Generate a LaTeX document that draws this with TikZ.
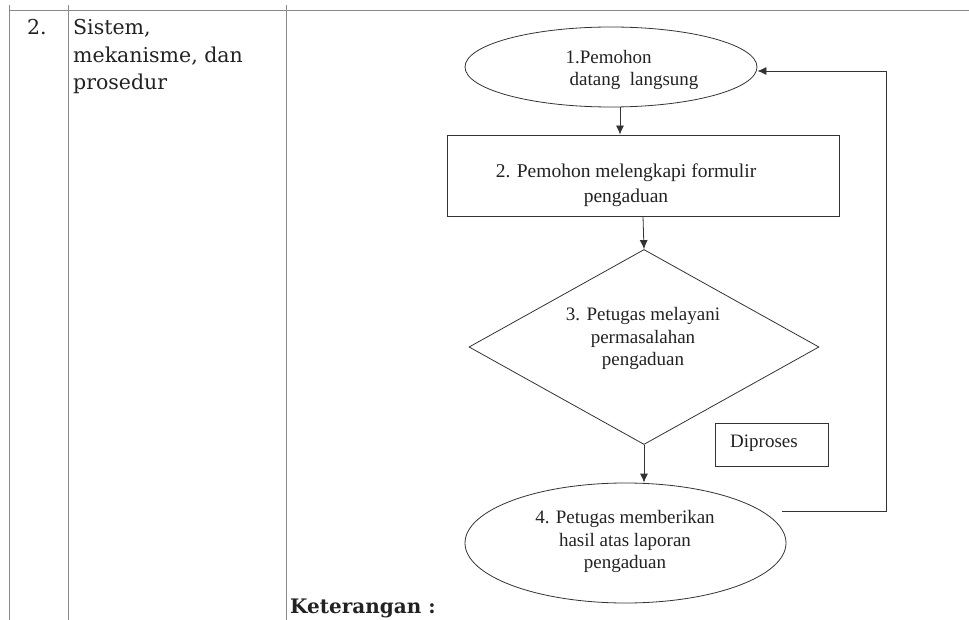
\documentclass[tikz,border=0pt]{standalone}
\usepackage{fontspec}
\setmainfont{Liberation Serif}
\newfontfamily\bookfont{DejaVu Serif}
\usetikzlibrary{shapes.geometric,arrows.meta}
\definecolor{linecol}{HTML}{333333}
\definecolor{tblcol}{HTML}{8A8A8A}
\definecolor{txtcol}{HTML}{222222}
\begin{document}
\begin{tikzpicture}[x=1pt,y=-1pt,
  tbl/.style={draw=tblcol,line width=0.7pt},
  tabtext/.style={anchor=base west,inner sep=0,text=txtcol,font=\bookfont\fontsize{20.5}{27}\selectfont},
  flowtext/.style={inner sep=0,text=txtcol,align=center,font=\fontsize{19}{22.5}\selectfont},
  shapebox/.style={draw=linecol,line width=0.8pt,inner sep=0},
  arr/.style={draw=linecol,line width=0.8pt,-{Latex[length=9pt,width=8pt]}}]
\useasboundingbox (0,0) rectangle (969,620);
% table
\draw[tbl] (9,10) -- (969,10);
\draw[tbl] (9,5) -- (9,620);
\draw[tbl] (68,5) -- (68,620);
\draw[tbl] (286,5) -- (286,620);
\node[tabtext] (num) at (27,35) {2.};
\node[tabtext] (s1) at (73,35) {Sistem,};
\node[tabtext] (s2) at (73,63) {mekanisme, dan};
\node[tabtext] (s3) at (73,90) {prosedur};
\node[anchor=base west,inner sep=0,text=txtcol,font=\bookfont\bfseries\fontsize{20}{22}\selectfont] (ket) at (290,613) {Keterangan :};
% flowchart
\node[shapebox,ellipse,minimum width=292pt,minimum height=80pt] (e1) at (611,67) {};
\node[flowtext,align=left] (t1) at (632,70) {1.Pemohon\\\hspace*{4pt}datang\ \ langsung};
\node[shapebox,rectangle,minimum width=392pt,minimum height=81pt] (r2) at (643,175.5) {};
\node[flowtext,font=\fontsize{19.5}{25}\selectfont] (t2) at (626,185) {2. Pemohon melengkapi formulir\\pengaduan};
\node[shapebox,diamond,minimum width=350pt,minimum height=195pt] (d3) at (644,347) {};
\node[flowtext] (t3) at (643,338.5) {3. Petugas melayani\\permasalahan\\pengaduan};
\node[shapebox,rectangle,minimum width=113pt,minimum height=43pt] (dp) at (771.5,444.5) {};
\node[flowtext] (tdp) at (764,443) {Diproses};
\node[shapebox,ellipse,minimum width=321pt,minimum height=120pt] (e4) at (625.5,543) {};
\node[flowtext] (t4) at (625,541.5) {4. Petugas memberikan\\hasil atas laporan\\pengaduan};
% connectors
\draw[arr] ([xshift=9pt]e1.south) -- ([xshift=9pt]e1.south |- r2.north);
\draw[arr] (r2.south) -- (d3.north);
\draw[arr] (d3.south) -- (d3.south |- e4.north);
\coordinate (fb) at (782,511);
\coordinate (fbc) at (886,511);
\draw[arr] (fb) -- (fbc) |- ([yshift=-4pt]e1.east);
\end{tikzpicture}
\end{document}
